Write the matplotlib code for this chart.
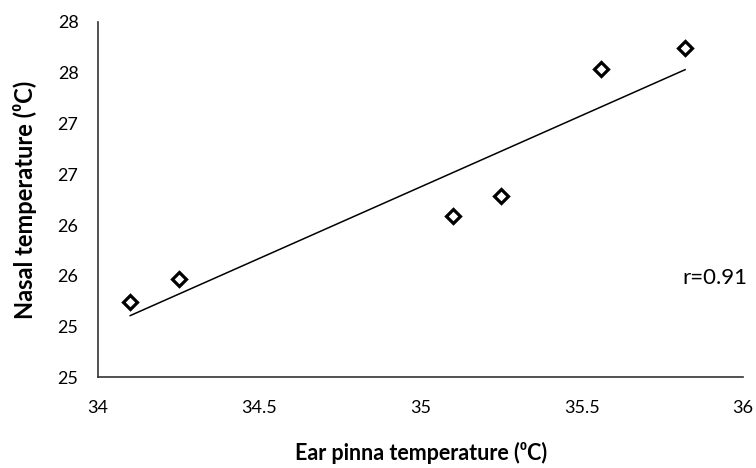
import matplotlib
matplotlib.use('Agg')
import matplotlib.pyplot as plt
import numpy as np
from matplotlib.ticker import FuncFormatter

plt.rcParams['font.family'] = ['Lato', 'DejaVu Sans']

# ear pinna vs nasal temperature readings
ear_temp = [34.1, 34.25, 35.1, 35.25, 35.56, 35.82]
nasal_temp = [25.24, 25.47, 26.09, 26.29, 27.54, 27.74]
r_label = 'r=0.91'

x = np.array(ear_temp)
y = np.array(nasal_temp)
slope, intercept = np.polyfit(x, y, 1)
xfit = np.array([x.min(), x.max()])

fig = plt.figure(figsize=(7.56, 4.68), dpi=100)
ax = fig.add_axes([0.1296, 0.1934, 0.8534, 0.7596])

ax.plot(xfit, slope * xfit + intercept, color='black', lw=1.1)
ax.plot(x, y, linestyle='none', marker='D', ms=7, mfc='white',
        mec='black', mew=2.3)

ax.set_xlim(34, 36)
ax.set_ylim(24.5, 28)
ax.set_xticks([34, 34.5, 35, 35.5, 36])
ax.set_yticks(np.arange(24.5, 28.01, 0.5))
ax.xaxis.set_major_formatter(FuncFormatter(lambda v, p: f'{v:g}'))
# excel style rounding of the y labels
ax.yaxis.set_major_formatter(FuncFormatter(lambda v, p: str(int(np.floor(v + 0.5)))))
ax.tick_params(length=0, labelsize=13)
ax.tick_params(axis='y', pad=14)
ax.tick_params(axis='x', pad=16)

for s in ['top', 'right']:
    ax.spines[s].set_visible(False)
for s in ['left', 'bottom']:
    ax.spines[s].set_color('#333333')
    ax.spines[s].set_linewidth(1.2)

ax.set_xlabel('Ear pinna temperature (⁰C)', fontsize=15.5, fontweight='bold', va='center')
ax.set_ylabel('Nasal temperature (⁰C)', fontsize=17, fontweight='bold', va='center')
ax.xaxis.set_label_coords(0.5, -0.212)
ax.yaxis.set_label_coords(-0.113, 0.5)

ax.text(35.811, 25.48, r_label, fontsize=16, ha='left', va='center')

fig.savefig('out.png', dpi=100)
